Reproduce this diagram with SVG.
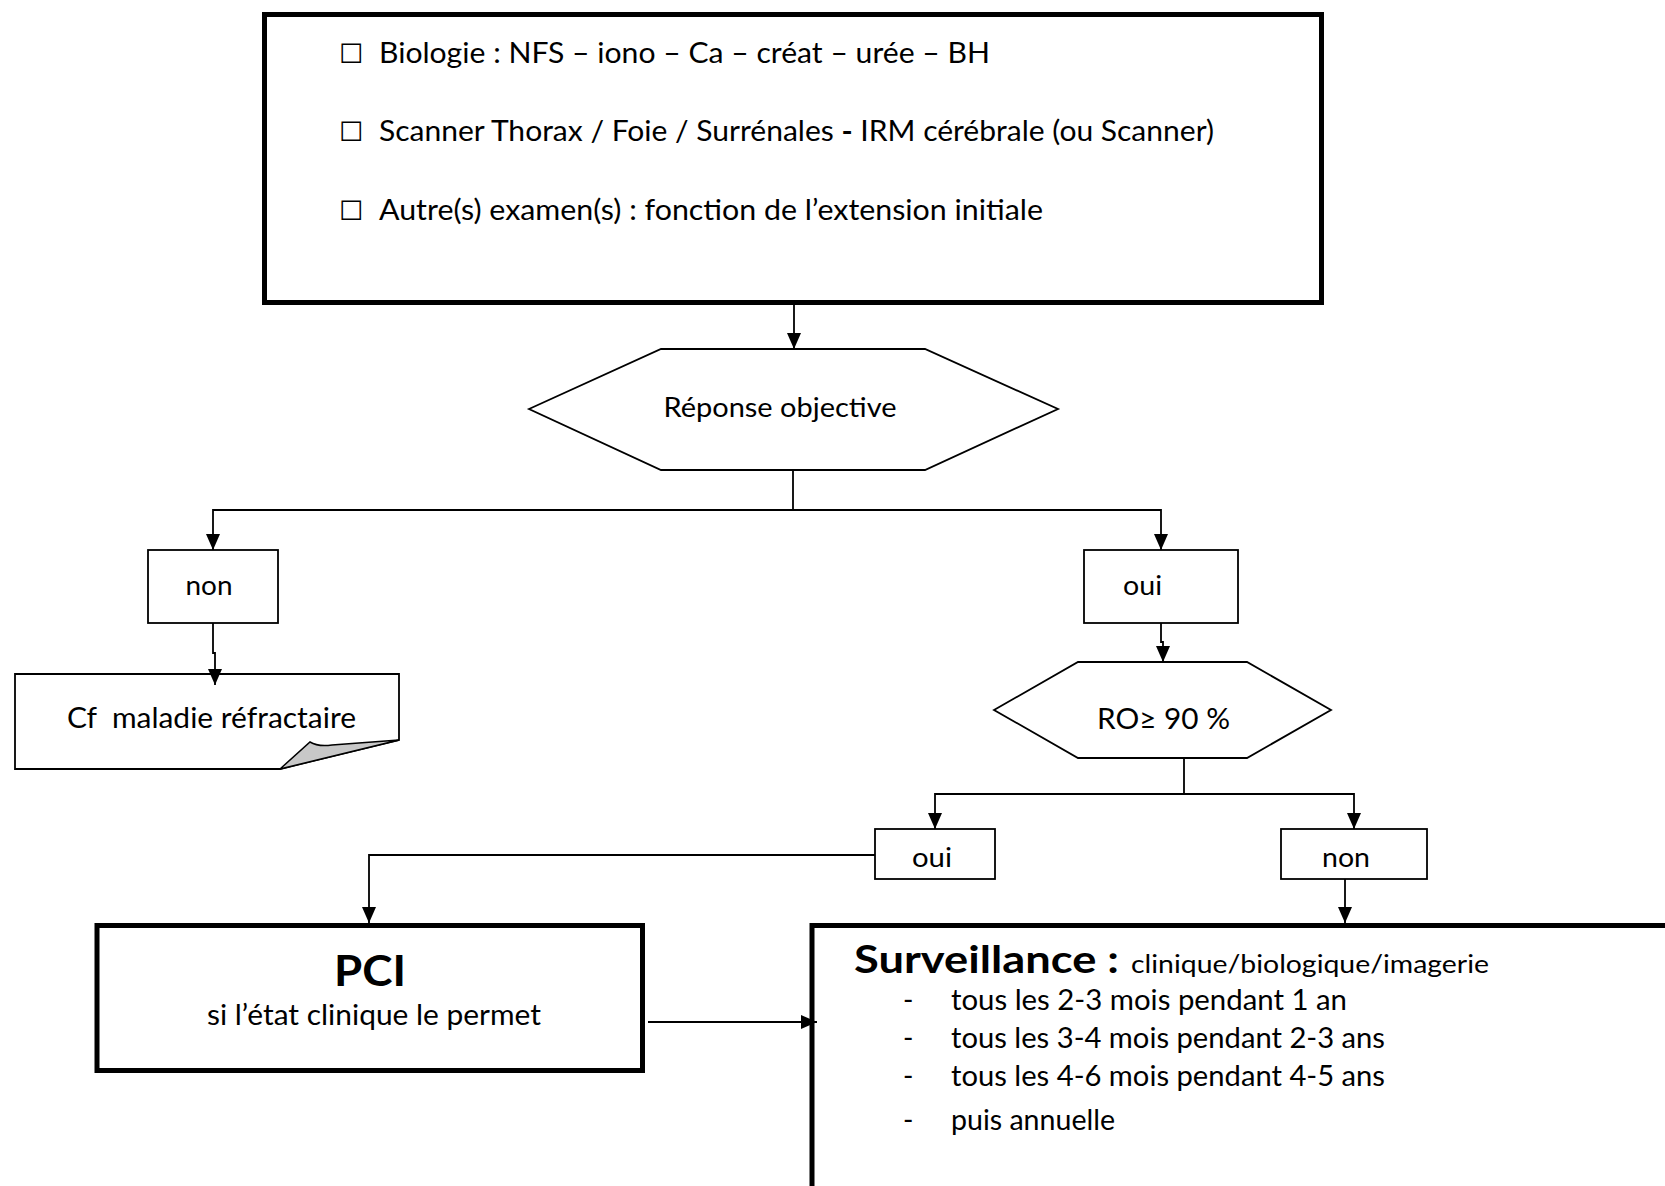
<svg xmlns="http://www.w3.org/2000/svg" width="1665" height="1186" viewBox="0 0 1665 1186">
  <style>
    text { font-family: Lato, "Open Sans", "DejaVu Sans", sans-serif; fill: #000; }
    .t { font-size: 27px; }
    .big { font-size: 28px; }
    .box { fill: #fff; stroke: #000; stroke-width: 1.8; }
    .heavy { fill: #fff; stroke: #000; stroke-width: 5; }
    .hex { fill: #fff; stroke: #000; stroke-width: 1.8; }
    .wire { fill: none; stroke: #000; stroke-width: 1.8; }
    .chk { font-family: "DejaVu Sans", sans-serif; font-size: 27px; }
    .mid { text-anchor: middle; }
    .b { font-weight: bold; }
  </style>
  <defs>
    <marker id="arrow" markerUnits="userSpaceOnUse" markerWidth="16" markerHeight="14" refX="16" refY="7" orient="auto">
      <path d="M0,0 L16,7 L0,14 Z" fill="#000"/>
    </marker>
  </defs>

  <!-- initial check-up -->
  <g id="bilan">
    <rect class="heavy" x="264.5" y="14.5" width="1057" height="288"/>
    <text class="chk" x="339" y="63">☐</text>
    <text class="big" x="379" y="63" textLength="611" lengthAdjust="spacingAndGlyphs">Biologie : NFS – iono – Ca – créat – urée – BH</text>
    <text class="chk" x="339" y="141">☐</text>
    <text class="big" x="379" y="141" textLength="835" lengthAdjust="spacingAndGlyphs">Scanner Thorax / Foie / Surrénales <tspan class="b">-</tspan> IRM cérébrale (ou Scanner)</text>
    <text class="chk" x="339" y="220">☐</text>
    <text class="big" x="379" y="220" textLength="664" lengthAdjust="spacingAndGlyphs">Autre(s) examen(s) : fonction de l’extension initiale</text>
  </g>

  <!-- decision: objective response -->
  <g id="reponse">
    <polygon class="hex" points="529,409 661,349 925,349 1058,409 925,470 661,470"/>
    <text class="mid" x="780" y="417" font-size="27" textLength="233" lengthAdjust="spacingAndGlyphs">Réponse objective</text>
  </g>

  <g id="non1">
    <rect class="box" x="148" y="550" width="130" height="73"/>
    <text class="t mid" x="209" y="595" textLength="47" lengthAdjust="spacingAndGlyphs">non</text>
  </g>

  <g id="oui1">
    <rect class="box" x="1084" y="550" width="154" height="73"/>
    <text class="t" x="1123" y="595" textLength="39" lengthAdjust="spacingAndGlyphs">oui</text>
  </g>

  <!-- refractory disease note with folded corner -->
  <g id="refractaire">
    <path class="box" d="M15,674 H399 V740 L280,769 H15 Z"/>
    <path d="M280,769 L310,742 Q318,747 332,745 L399,740 Z" fill="#c8c8c8" stroke="#000" stroke-width="1.5"/>
    <text class="big" x="67" y="728" xml:space="preserve" textLength="289" lengthAdjust="spacingAndGlyphs">Cf  maladie réfractaire</text>
  </g>

  <!-- decision: RO >= 90 % -->
  <g id="ro90">
    <polygon class="hex" points="994,710 1078,662 1247,662 1331,710 1247,758 1078,758"/>
    <text class="big" x="1097" y="729" textLength="133" lengthAdjust="spacingAndGlyphs">RO≥ 90 %</text>
  </g>

  <g id="oui2">
    <rect class="box" x="875" y="829" width="120" height="50"/>
    <text class="t mid" x="932" y="867" textLength="40" lengthAdjust="spacingAndGlyphs">oui</text>
  </g>

  <g id="non2">
    <rect class="box" x="1281" y="829" width="146" height="50"/>
    <text class="t mid" x="1346" y="867" textLength="48" lengthAdjust="spacingAndGlyphs">non</text>
  </g>

  <g id="pci">
    <rect class="heavy" x="97" y="925.5" width="545.5" height="145"/>
    <text class="mid b" x="370" y="986" font-size="42" textLength="72" lengthAdjust="spacingAndGlyphs">PCI</text>
    <text class="big mid" x="374" y="1025" textLength="334" lengthAdjust="spacingAndGlyphs">si l’état clinique le permet</text>
  </g>

  <g id="surveillance">
    <rect class="heavy" x="812" y="925.5" width="900" height="400"/>
    <text class="b" x="854" y="973" font-size="38" textLength="265" lengthAdjust="spacingAndGlyphs">Surveillance :</text>
    <text x="1131" y="973" font-size="25" textLength="358" lengthAdjust="spacingAndGlyphs">clinique/biologique/imagerie</text>
    <text class="big" x="903" y="1010">-</text>
    <text class="big" x="951" y="1010" textLength="396" lengthAdjust="spacingAndGlyphs">tous les 2-3 mois pendant 1 an</text>
    <text class="big" x="903" y="1048">-</text>
    <text class="big" x="951" y="1048" textLength="434" lengthAdjust="spacingAndGlyphs">tous les 3-4 mois pendant 2-3 ans</text>
    <text class="big" x="903" y="1086">-</text>
    <text class="big" x="951" y="1086" textLength="434" lengthAdjust="spacingAndGlyphs">tous les 4-6 mois pendant 4-5 ans</text>
    <text class="big" x="903" y="1130">-</text>
    <text class="big" x="951" y="1130" textLength="164" lengthAdjust="spacingAndGlyphs">puis annuelle</text>
  </g>

  <!-- connectors -->
  <g id="connectors">
    <path class="wire" d="M794,305 V349" marker-end="url(#arrow)"/>
    <path class="wire" d="M793,470 V510 H213 V550" marker-end="url(#arrow)"/>
    <path class="wire" d="M793,510 H1161 V550" marker-end="url(#arrow)"/>
    <path class="wire" d="M213,623 V653 H215 V685" marker-end="url(#arrow)"/>
    <path class="wire" d="M1161,623 V642 H1163 V662" marker-end="url(#arrow)"/>
    <path class="wire" d="M1184,758 V794 H935 V829" marker-end="url(#arrow)"/>
    <path class="wire" d="M1184,794 H1354 V829" marker-end="url(#arrow)"/>
    <path class="wire" d="M875,855 H369 V923" marker-end="url(#arrow)"/>
    <path class="wire" d="M1345,879 V923" marker-end="url(#arrow)"/>
    <path class="wire" d="M648,1022 H817" marker-end="url(#arrow)"/>
  </g>
</svg>
